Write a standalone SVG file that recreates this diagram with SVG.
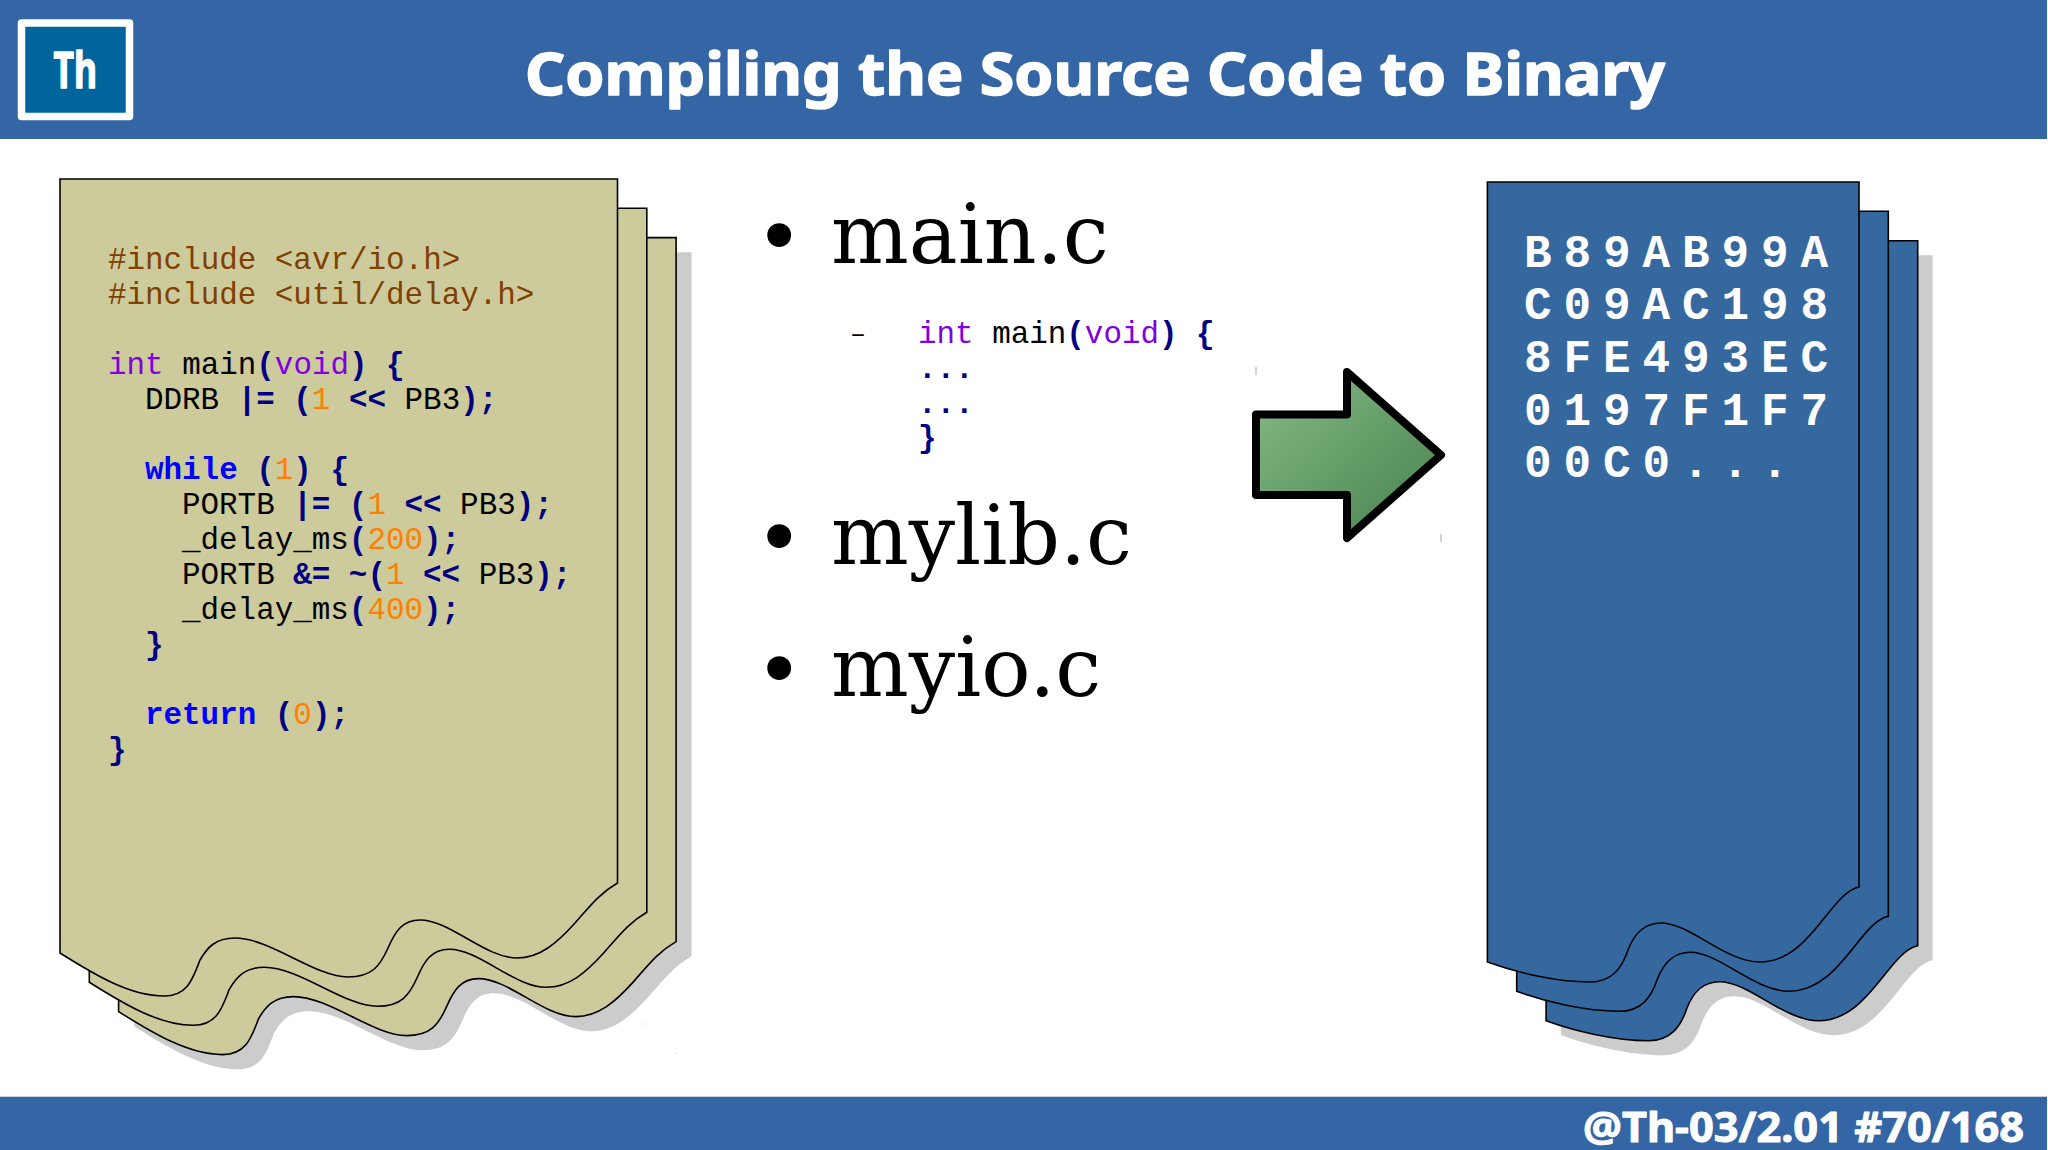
<svg xmlns="http://www.w3.org/2000/svg" xmlns:xlink="http://www.w3.org/1999/xlink" width="2048" height="1150" viewBox="0 0 2048 1150">
<style>
.bar{fill:#3465a4}
.hd{font-family:"Noto Sans",sans-serif;font-weight:700;fill:#fff;stroke:#fff;stroke-linejoin:round}
.code{font-family:"Liberation Mono",monospace;font-size:30.9px;fill:#000;white-space:pre}
.p{fill:#804000}.t{fill:#8000e0}.o{fill:#000080;font-weight:700}.n{fill:#ff8000}.k{fill:#0000ff;font-weight:700}
.b{font-family:"DejaVu Serif",serif;font-size:82px;fill:#000}
.hex{font-family:"Liberation Mono",monospace;font-weight:700;font-size:46px;letter-spacing:11.9px;fill:#fff}
.pg1{fill:#cdcb9b;stroke:#000;stroke-width:1.6}
.pg2{fill:#35689e;stroke:#000;stroke-width:1.6}
.sh{fill:#ccc}
</style>
<defs>
<path id="leaf" d="M60 179H617.5V883C600 893 590 906 575 923C557 943 540 958 517 958C485 958 450 920 420 920C402 920 395 932 388 948C380 966 372 977 348 977C315 977 270 938 235 938C215 938 207 948 200 960C193 978 188 996 164 996C130 996 95 975 60 953Z"/>
<path id="bin" d="M1487.4 182H1859V887C1830 893 1810 962 1760 962C1725 962 1690 923 1661 923C1645 923 1635 932 1628 950C1622 968 1612 982 1590 982C1555 982 1515 972 1487.4 962Z"/>
<linearGradient id="ag" x1="0" y1="0" x2="1" y2="1"><stop offset="0" stop-color="#86bb86"/><stop offset="1" stop-color="#46814e"/></linearGradient>
</defs>
<rect width="2048" height="1150" fill="#fff"/>
<g id="header">
<rect class="bar" width="2047" height="139"/>
<rect x="21.5" y="23" width="108" height="93.5" fill="#00659c" stroke="#fff" stroke-width="7.5" stroke-linejoin="round"/>
<text class="hd" x="53.5" y="88" font-size="50" stroke-width="1.4" textLength="43.5" lengthAdjust="spacingAndGlyphs">Th</text>
<text class="hd" x="525" y="95" font-size="59" stroke-width="1.6" textLength="1140" lengthAdjust="spacingAndGlyphs">Compiling the Source Code to Binary</text>
</g>
<g id="footer">
<rect class="bar" y="1096.7" width="2047" height="53.3"/>
<text class="hd" x="1583" y="1141.5" font-size="42" stroke-width="1" textLength="441" lengthAdjust="spacingAndGlyphs">@Th-03/2.01 #70/168</text>
</g>
<g id="source-pages">
<use href="#leaf" class="sh" x="74" y="73.2"/>
<use href="#leaf" class="pg1" x="58.6" y="58.6"/>
<use href="#leaf" class="pg1" x="29.3" y="29.3"/>
<use href="#leaf" class="pg1"/>
<rect x="645.5" y="1023.5" width="1" height="1" fill="#bbb"/>
<rect x="675.5" y="1053" width="1" height="1" fill="#bbb"/>
<text class="code" xml:space="preserve"><tspan class="p" x="108" y="269">#include &lt;avr/io.h&gt;</tspan><tspan class="p" x="108" y="304">#include &lt;util/delay.h&gt;</tspan><tspan x="108" y="374"><tspan class="t">int</tspan> main<tspan class="o">(</tspan><tspan class="t">void</tspan><tspan class="o">)</tspan> <tspan class="o">{</tspan></tspan><tspan x="145" y="409">DDRB <tspan class="o">|=</tspan> <tspan class="o">(</tspan><tspan class="n">1</tspan> <tspan class="o">&lt;&lt;</tspan> PB3<tspan class="o">);</tspan></tspan><tspan x="145" y="479"><tspan class="k">while</tspan> <tspan class="o">(</tspan><tspan class="n">1</tspan><tspan class="o">)</tspan> <tspan class="o">{</tspan></tspan><tspan x="182" y="514">PORTB <tspan class="o">|=</tspan> <tspan class="o">(</tspan><tspan class="n">1</tspan> <tspan class="o">&lt;&lt;</tspan> PB3<tspan class="o">);</tspan></tspan><tspan x="182" y="549">_delay_ms<tspan class="o">(</tspan><tspan class="n">200</tspan><tspan class="o">);</tspan></tspan><tspan x="182" y="584">PORTB <tspan class="o">&amp;=</tspan> <tspan class="o">~(</tspan><tspan class="n">1</tspan> <tspan class="o">&lt;&lt;</tspan> PB3<tspan class="o">);</tspan></tspan><tspan x="182" y="619">_delay_ms<tspan class="o">(</tspan><tspan class="n">400</tspan><tspan class="o">);</tspan></tspan><tspan class="o" x="145" y="654">}</tspan><tspan x="145" y="724"><tspan class="k">return</tspan> <tspan class="o">(</tspan><tspan class="n">0</tspan><tspan class="o">);</tspan></tspan><tspan class="o" x="108" y="759">}</tspan></text>
</g>
<g id="file-list">
<text class="b" x="755" y="266">•</text><text class="b" x="831" y="263">main.c</text>
<text x="851" y="343" font-family="DejaVu Serif,serif" font-size="28" fill="#000">–</text>
<text class="code" xml:space="preserve"><tspan x="918" y="343"><tspan class="t">int</tspan> main<tspan class="o">(</tspan><tspan class="t">void</tspan><tspan class="o">)</tspan> <tspan class="o">{</tspan></tspan><tspan class="o" x="918" y="378">...</tspan><tspan class="o" x="918" y="413">...</tspan><tspan class="o" x="918" y="447">}</tspan></text>
<text class="b" x="755" y="567">•</text><text class="b" x="831" y="564">mylib.c</text>
<text class="b" x="755" y="699">•</text><text class="b" x="831" y="696">myio.c</text>
</g>
<g id="arrow">
<path d="M1256 414.5H1347V372L1441 455L1347 538V495H1256Z" fill="url(#ag)" stroke="#000" stroke-width="8" stroke-linejoin="round"/>
<path d="M1256 367V375M1441 534V542" stroke="#aaa" stroke-width="1" fill="none"/>
</g>
<g id="binary-pages">
<use href="#bin" class="sh" x="73.6" y="73.2"/>
<use href="#bin" class="pg2" x="58.7" y="58.7"/>
<use href="#bin" class="pg2" x="29.3" y="29.3"/>
<use href="#bin" class="pg2"/>
<text class="hex" xml:space="preserve"><tspan x="1524" y="266.7">B89AB99A</tspan><tspan x="1524" y="319.3">C09AC198</tspan><tspan x="1524" y="372">8FE493EC</tspan><tspan x="1524" y="424.7">0197F1F7</tspan><tspan x="1524" y="477.3">00C0...</tspan></text>
</g>
</svg>
